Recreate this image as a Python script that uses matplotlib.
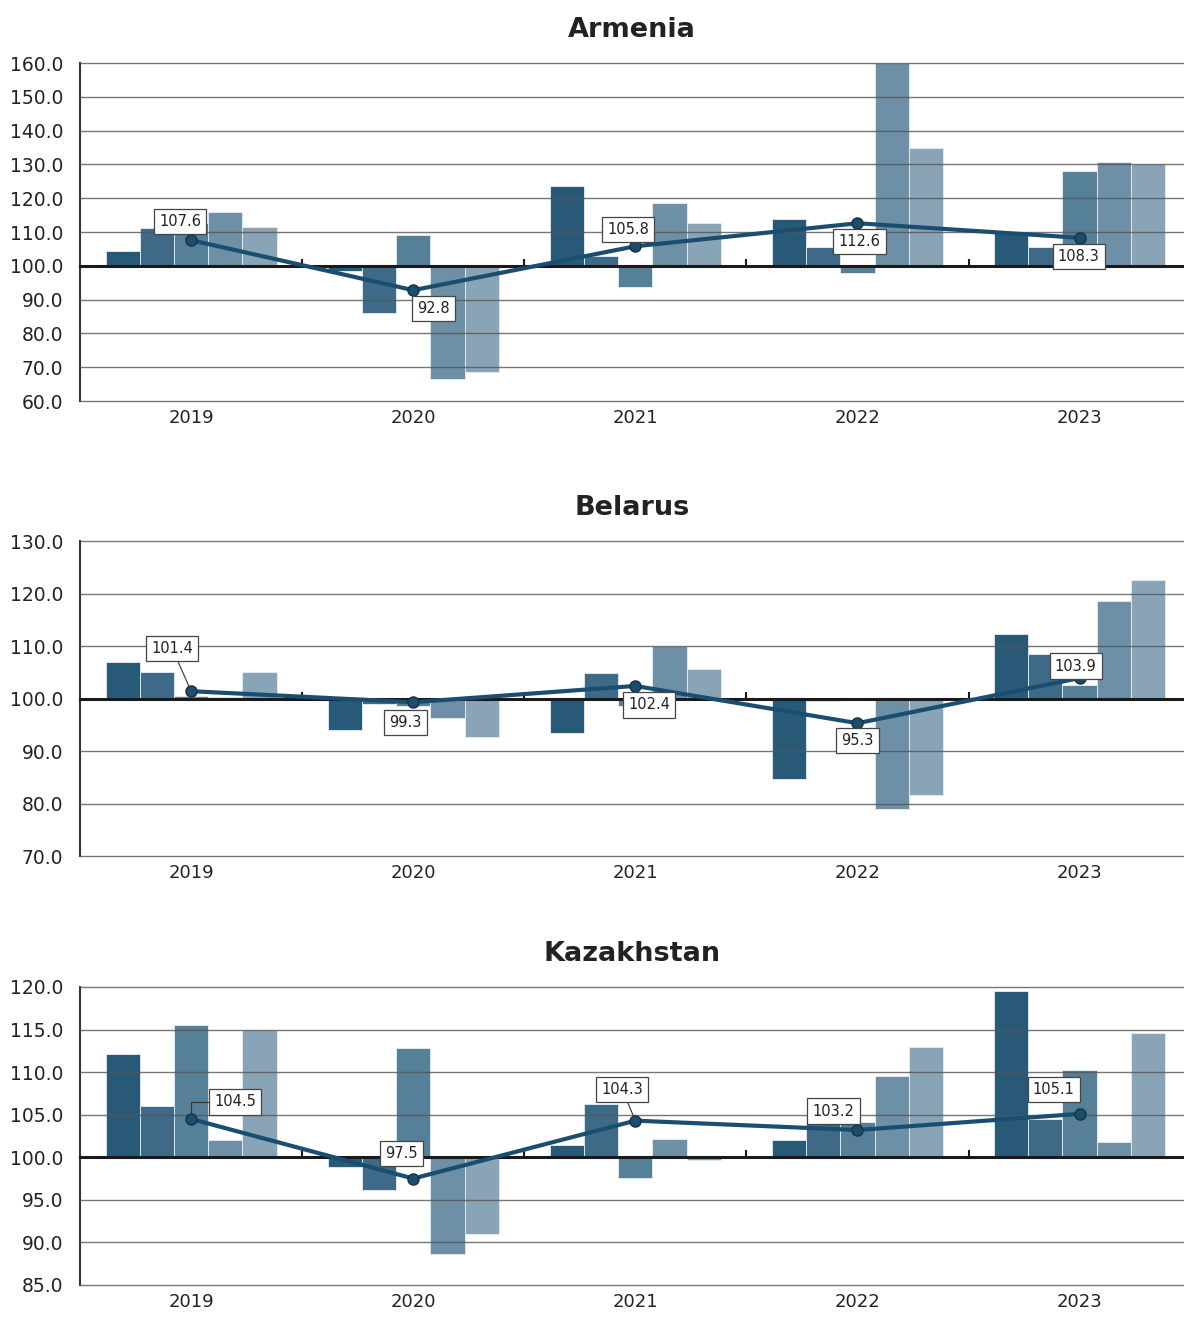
import numpy as np
import matplotlib
matplotlib.use('Agg')
import matplotlib.pyplot as plt

# Data
years = ['2019', '2020', '2021', '2022', '2023']

armenia_bars = [
    [104.4, 111.3, 112.7, 116.0, 111.6],
    [98.6, 86.1, 109.1, 66.6, 68.5],
    [123.6, 102.8, 93.8, 118.5, 112.8],
    [114.0, 105.6, 97.9, 160.0, 134.9],
    [110.0, 105.6, 128.2, 130.6, 130.2],
]
armenia_line = [107.6, 92.8, 105.8, 112.6, 108.3]

belarus_bars = [
    [107.0, 105.0, 100.4, 100.2, 105.0],
    [94.1, 98.9, 98.5, 96.3, 92.6],
    [93.5, 104.8, 98.5, 110.0, 105.6],
    [84.6, 99.6, 99.8, 78.9, 81.7],
    [112.3, 108.4, 102.5, 118.6, 122.6],
]
belarus_line = [101.4, 99.3, 102.4, 95.3, 103.9]

kazakhstan_bars = [
    [112.1, 106.0, 115.5, 102.0, 114.9],
    [98.9, 96.2, 112.8, 88.6, 91.0],
    [101.4, 106.2, 97.6, 102.2, 99.7],
    [102.0, 104.2, 104.2, 109.6, 113.0],
    [119.5, 104.5, 110.2, 101.8, 114.6],
]
kazakhstan_line = [104.5, 97.5, 104.3, 103.2, 105.1]

bar_colors = ['#285a78', '#3e6a88', '#567f98', '#6d90a6', '#88a4b6']
line_color = '#1a4e71'

# label offsets in pixels (dx, dy) and kind of leader line
armenia_lbl = [(-11, 19, None), (20, -18, None), (-7, 17, None), (2, -18, None), (-1, -19, None)]
belarus_lbl = [(-19, 43, 'straight'), (-8, -20, None), (14, -19, None), (0, -17, None), (-4, 12, None)]
kazakhstan_lbl = [(44, 17, 'elbow'), (-12, 25, None), (-13, 31, 'straight'), (-24, 19, None), (-26, 24, None)]

plt.rcParams['font.family'] = ['DejaVu Sans']
plt.rcParams['text.color'] = '#222222'

fig = plt.figure(figsize=(11.84, 13.17), dpi=100)

panels = [
    ('Armenia', armenia_bars, armenia_line, armenia_lbl, (60, 160), 10,
     [0.0676, 0.6955, 0.9324, 0.2566]),
    ('Belarus', belarus_bars, belarus_line, belarus_lbl, (70, 130), 10,
     [0.0676, 0.3500, 0.9324, 0.2392]),
    ('Kazakhstan', kazakhstan_bars, kazakhstan_line, kazakhstan_lbl, (85, 120), 5,
     [0.0676, 0.0243, 0.9324, 0.2263]),
]

bw = 0.154
x = np.arange(len(years))

for title, bars, line, lbls, ylim, step, rect in panels:
    ax = fig.add_axes(rect)
    for i, vals in enumerate(bars):
        for j, v in enumerate(vals):
            ax.bar(x[i] + (j - 2) * bw, v - 100, bottom=100, width=bw,
                   color=bar_colors[j], edgecolor='#e8eef2', linewidth=0.6, zorder=1)
    ax.plot(x, line, color=line_color, lw=3, marker='o', markersize=8,
            markerfacecolor=line_color, markeredgecolor='#1c2f3c', markeredgewidth=1, zorder=4)

    for i, (v, (dx, dy, kind)) in enumerate(zip(line, lbls)):
        arrow = None
        if kind == 'straight':
            arrow = dict(arrowstyle='-', color='#333333', lw=0.8, shrinkA=0, shrinkB=4)
        elif kind == 'elbow':
            arrow = dict(arrowstyle='-', color='#333333', lw=0.8, shrinkA=0, shrinkB=4,
                         connectionstyle='angle,angleA=0,angleB=90,rad=0')
        ax.annotate(f'{v:.1f}', xy=(x[i], v), xytext=(dx, dy), textcoords='offset pixels',
                    ha='center', va='center', fontsize=10.5, color='#222222',
                    bbox=dict(boxstyle='square,pad=0.35', fc='white', ec='#444444', lw=0.9),
                    arrowprops=arrow, zorder=5)

    ticks = np.arange(ylim[0], ylim[1] + 0.1, step)
    ax.set_xlim(-0.5, 4.47)
    ax.set_ylim(*ylim)
    ax.set_yticks(ticks)
    ax.set_yticklabels([f'{t:.1f}' for t in ticks])
    ax.tick_params(axis='y', length=0, labelsize=13.5, pad=12, labelcolor='#222222')
    ax.grid(axis='y', color='#555555', lw=1.0, alpha=0.8)
    ax.set_axisbelow(False)
    for gl in ax.get_ygridlines():
        gl.set_clip_on(False)

    # category axis crosses at 100, tick marks between groups
    ax.spines['bottom'].set_position(('data', 100))
    ax.spines['bottom'].set_linewidth(2.2)
    ax.spines['bottom'].set_color('#1a1a1a')
    ax.spines['bottom'].set_zorder(3)
    ax.set_xticks(x[:-1] + 0.5)
    ax.tick_params(axis='x', direction='in', length=5, width=1.5, color='#1a1a1a',
                   labelbottom=False)
    ax.spines['left'].set_linewidth(1.5)
    ax.spines['left'].set_color('#333333')
    ax.spines['right'].set_visible(False)
    ax.spines['top'].set_visible(False)

    sec = ax.secondary_xaxis('bottom')
    sec.set_xticks(x)
    sec.set_xticklabels(years)
    sec.tick_params(length=0, labelsize=13, pad=6, labelcolor='#222222')
    sec.spines['bottom'].set_visible(False)

    ax.set_title(title, fontsize=19.5, fontweight='bold', pad=19, color='#222222')

fig.savefig('out.png', dpi=100)
